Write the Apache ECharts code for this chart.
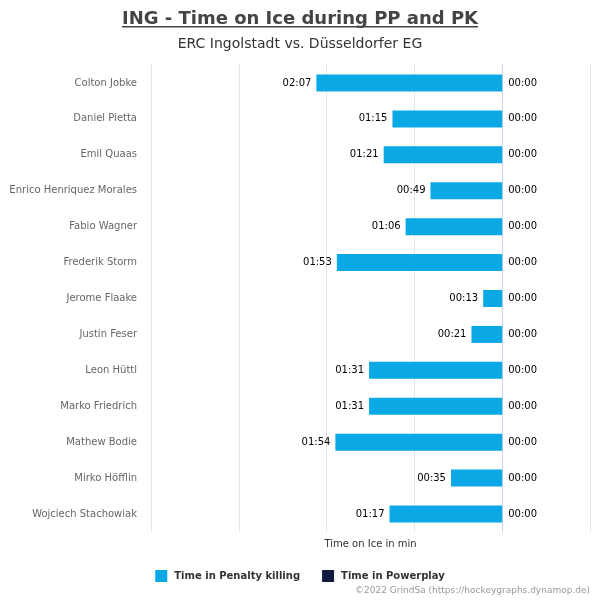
<!DOCTYPE html>
<html>
<head>
<meta charset="utf-8">
<script src="https://cdn.jsdelivr.net/npm/echarts@6/dist/echarts.min.js"></script>
<style>
html, body { margin: 0; padding: 0; background: #fff; }
#chart { width: 600px; height: 600px; }
</style>
</head>
<body>
<div id="chart"></div>
<script>
var players = ['Colton Jobke', 'Daniel Pietta', 'Emil Quaas', 'Enrico Henriquez Morales', 'Fabio Wagner',
    'Frederik Storm', 'Jerome Flaake', 'Justin Feser', 'Leon Hüttl', 'Marko Friedrich',
    'Mathew Bodie', 'Mirko Höfflin', 'Wojciech Stachowiak'];
// seconds
var penaltyKilling = [127, 75, 81, 49, 66, 113, 13, 21, 91, 91, 114, 35, 77];
var powerplay = [0, 0, 0, 0, 0, 0, 0, 0, 0, 0, 0, 0, 0];

function mmss(v) {
    v = Math.abs(v);
    var m = Math.floor(v / 60), s = v % 60;
    return (m < 10 ? '0' : '') + m + ':' + (s < 10 ? '0' : '') + s;
}

var chart = echarts.init(document.getElementById('chart'));
var font = 'DejaVu Sans';

option = {
    backgroundColor: '#fff',
    textStyle: { fontFamily: font },
    animation: false,
    title: [{
        text: 'ING - Time on Ice during PP and PK',
        left: 'center',
        top: 5,
        textStyle: { fontSize: 18, fontWeight: 'bold', color: '#444', fontFamily: font }
    }, {
        text: 'ERC Ingolstadt vs. Düsseldorfer EG',
        left: 'center',
        top: 32,
        textStyle: { fontSize: 14, fontWeight: 'normal', color: '#333', fontFamily: font }
    }, {
        text: '©2022 GrindSa (https://hockeygraphs.dynamop.de)',
        right: 5,
        bottom: 0,
        textStyle: { fontSize: 9, fontWeight: 'normal', color: '#999', fontFamily: font }
    }],
    graphic: [{
        type: 'rect',
        left: 'center',
        top: 26,
        shape: { width: 356, height: 1.5 },
        style: { fill: '#444' }
    }],
    legend: {
        bottom: 13,
        left: 'center',
        itemWidth: 12,
        itemHeight: 12,
        itemGap: 22,
        icon: 'rect',
        textStyle: { fontSize: 10, fontWeight: 'bold', color: '#333', fontFamily: font, padding: [0, 0, 0, 2] },
        data: ['Time in Penalty killing', 'Time in Powerplay']
    },
    grid: { left: 151, right: 10, top: 65, bottom: 68, containLabel: false },
    xAxis: {
        type: 'value',
        min: -240,
        max: 60,
        interval: 60,
        name: 'Time on Ice in min',
        nameLocation: 'middle',
        nameGap: 7,
        nameTextStyle: { fontSize: 10, color: '#333' },
        axisLabel: { show: false },
        axisLine: { show: false },
        axisTick: { show: false },
        splitLine: { lineStyle: { color: '#e6e6e6' } }
    },
    yAxis: {
        type: 'category',
        inverse: true,
        data: players,
        axisLine: { show: true, lineStyle: { color: '#ccd6eb' } },
        axisTick: { show: false },
        axisLabel: { fontSize: 10, color: '#666', margin: 14 }
    },
    series: [{
        name: 'Time in Penalty killing',
        type: 'bar',
        barWidth: 17,
        barGap: '-100%',
        itemStyle: { color: '#0aa9e6' },
        label: {
            show: true,
            position: 'left',
            distance: 5,
            fontSize: 10,
            color: '#000',
            formatter: function (p) { return mmss(p.value); }
        },
        data: penaltyKilling.map(function (v) { return -v; })
    }, {
        name: 'Time in Powerplay',
        type: 'bar',
        barWidth: 17,
        barGap: '-100%',
        itemStyle: { color: '#131a3d' },
        label: {
            show: true,
            position: 'right',
            distance: 6,
            fontSize: 10,
            color: '#000',
            formatter: function (p) { return mmss(p.value); }
        },
        data: powerplay
    }]
};

chart.setOption(option);
</script>
</body>
</html>
